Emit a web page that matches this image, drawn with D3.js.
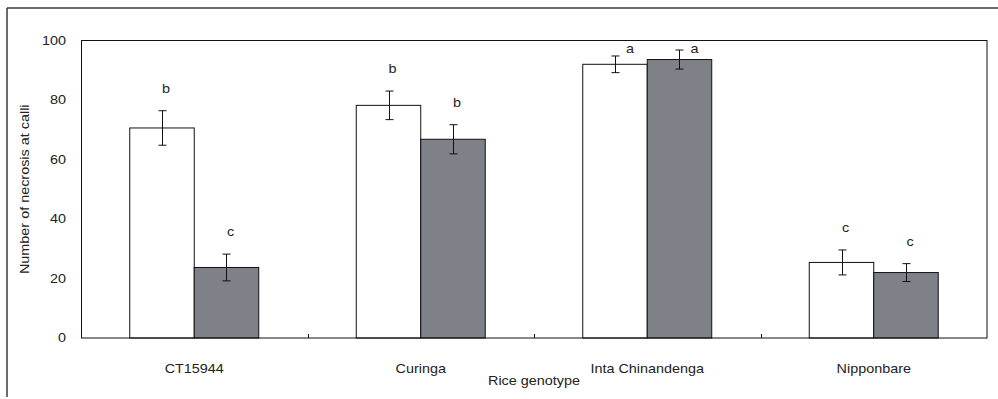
<!DOCTYPE html>
<html>
<head>
<meta charset="utf-8">
<script src="https://cdn.jsdelivr.net/npm/d3@7/dist/d3.min.js"></script>
<style>
  html, body { margin: 0; padding: 0; background: #fff; }
  svg text { font-family: Arial, "Liberation Sans", sans-serif; fill: #222; }
</style>
</head>
<body>
<svg id="chart" width="998" height="399"></svg>
<script>
// Rice genotypes on the x axis
const genotypes = ["CT15944", "Curinga", "Inta Chinandenga", "Nipponbare"];
// Two treatments per genotype (white and grey bars)
const seriesNames = ["control", "treated"];
const controlMeans = [70.6, 78.2, 92.0, 25.4];
const controlErrors = [5.8, 4.8, 2.8, 4.2];
const treatedMeans = [23.7, 66.8, 93.6, 22.0];
const treatedErrors = [4.5, 4.9, 3.2, 3.0];
// Significance letters above each bar
const controlLetters = ["b", "b", "a", "c"];
const treatedLetters = ["c", "b", "a", "c"];
const yTicks = [0, 20, 40, 60, 80, 100];
const yTitle = "Number of necrosis at calli";
const xTitle = "Rice genotype";

const svg = d3.select("#chart");
const plot = { left: 81, right: 987, top: 40.5, bottom: 338 };
const textScale = 1.2;
const fontSize = 12;

const rows = [];
genotypes.forEach((g, i) => {
  rows.push({ g, s: seriesNames[0], v: controlMeans[i], e: controlErrors[i], l: controlLetters[i] });
  rows.push({ g, s: seriesNames[1], v: treatedMeans[i], e: treatedErrors[i], l: treatedLetters[i] });
});

const x0 = d3.scaleBand().domain(genotypes).range([plot.left, plot.right]).padding(0);
const x1 = d3.scaleBand().domain(seriesNames).range([0, x0.bandwidth()])
  .paddingInner(0).paddingOuter(0.756);
const y = d3.scaleLinear().domain([0, 100]).range([plot.bottom, plot.top]);
const fill = d3.scaleOrdinal().domain(seriesNames).range(["#ffffff", "#7f8189"]);

// outer figure frame (top and left edges)
svg.append("line").attr("x1", 7).attr("x2", 998).attr("y1", 8).attr("y2", 8)
  .attr("stroke", "#3a3a3a").attr("stroke-width", 1.5);
svg.append("line").attr("x1", 7).attr("x2", 7).attr("y1", 8).attr("y2", 397)
  .attr("stroke", "#3a3a3a").attr("stroke-width", 1.5);

// bars
const bx = d => x0(d.g) + x1(d.s);
svg.append("g").selectAll("rect").data(rows).join("rect")
  .attr("x", d => bx(d))
  .attr("y", d => y(d.v))
  .attr("width", x1.bandwidth())
  .attr("height", d => y(0) - y(d.v))
  .attr("fill", d => fill(d.s))
  .attr("stroke", "#111")
  .attr("stroke-width", 1);

// error bars
const eb = svg.append("g").attr("stroke", "#111").attr("stroke-width", 1);
const cx = d => bx(d) + x1.bandwidth() / 2;
rows.forEach(d => {
  const c = Math.round(cx(d)) + 0.5;
  const t = y(d.v + d.e), b = y(d.v - d.e);
  eb.append("line").attr("x1", c).attr("x2", c).attr("y1", t).attr("y2", b);
  eb.append("line").attr("x1", c - 4).attr("x2", c + 4).attr("y1", t).attr("y2", t);
  eb.append("line").attr("x1", c - 4).attr("x2", c + 4).attr("y1", b).attr("y2", b);
});

// significance letters, nudged right and down when they would leave the plot
rows.forEach(d => {
  let ly = y(d.v + d.e) - 22;
  let lx = cx(d) + 4;
  if (ly < plot.top + 6) { ly = plot.top + 8.5; lx = cx(d) + 15; }
  svg.append("text")
    .attr("transform", `translate(${lx},${ly}) scale(${textScale},1)`)
    .attr("text-anchor", "middle").attr("dominant-baseline", "central")
    .attr("font-size", fontSize).text(d.l);
});

// plot frame
svg.append("rect")
  .attr("x", plot.left + 0.5).attr("y", plot.top)
  .attr("width", plot.right - plot.left - 0.5).attr("height", plot.bottom - plot.top)
  .attr("fill", "none").attr("stroke", "#111").attr("stroke-width", 1);

// category separator ticks
const sepTicks = genotypes.slice(1).map(g => x0(g));
svg.append("g").selectAll("line").data(sepTicks).join("line")
  .attr("x1", d => Math.round(d) + 0.5).attr("x2", d => Math.round(d) + 0.5)
  .attr("y1", plot.bottom - 4).attr("y2", plot.bottom)
  .attr("stroke", "#111");

// y tick labels
svg.append("g").selectAll("text").data(yTicks).join("text")
  .attr("transform", d => `translate(66,${y(d)}) scale(${textScale},1)`)
  .attr("text-anchor", "end").attr("dominant-baseline", "central")
  .attr("font-size", fontSize).text(d => d);

// category labels
svg.append("g").selectAll("text").data(genotypes).join("text")
  .attr("transform", d => `translate(${x0(d) + x0.bandwidth() / 2},369) scale(${textScale},1)`)
  .attr("text-anchor", "middle").attr("dominant-baseline", "central")
  .attr("font-size", fontSize).text(d => d);

// axis titles
svg.append("text")
  .attr("transform", `translate(${(plot.left + plot.right) / 2},381) scale(${textScale},1)`)
  .attr("text-anchor", "middle").attr("dominant-baseline", "central")
  .attr("font-size", fontSize).text(xTitle);
svg.append("text")
  .attr("transform", `translate(25,${(plot.top + plot.bottom) / 2}) rotate(-90) scale(${textScale},1)`)
  .attr("text-anchor", "middle").attr("dominant-baseline", "central")
  .attr("font-size", fontSize).text(yTitle);
</script>
</body>
</html>
